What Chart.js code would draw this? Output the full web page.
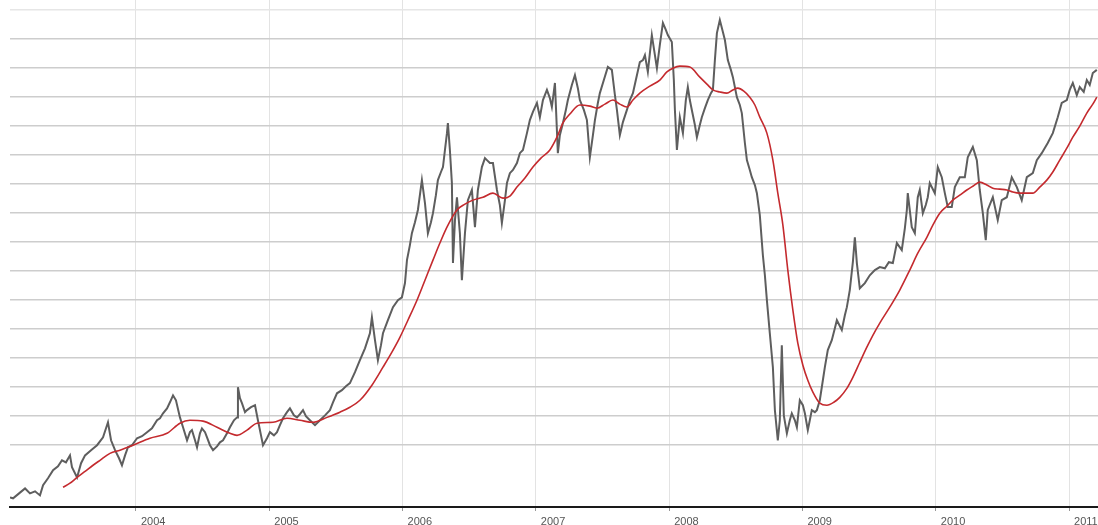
<!DOCTYPE html>
<html>
<head>
<meta charset="utf-8">
<script src="https://cdn.jsdelivr.net/npm/chart.js@4.4.1/dist/chart.umd.min.js"></script>
<style>
  body { margin: 0; background: #fff; }
  canvas { display: block; }
</style>
</head>
<body>
<canvas id="priceChart" width="1098" height="525"></canvas>
<script>
// price (grey) - decimal year / value
var priceYears = [
  2003.055, 2003.078, 2003.123, 2003.168, 2003.205, 2003.243, 2003.28, 2003.303, 2003.34, 2003.378,
  2003.415, 2003.445, 2003.475, 2003.505, 2003.52, 2003.558, 2003.588, 2003.618, 2003.663, 2003.708,
  2003.753, 2003.79, 2003.813, 2003.843, 2003.873, 2003.895, 2003.918, 2003.94, 2003.97, 2004.008,
  2004.045, 2004.083, 2004.12, 2004.158, 2004.18, 2004.203, 2004.233, 2004.255, 2004.278, 2004.3,
  2004.33, 2004.353, 2004.383, 2004.405, 2004.42, 2004.443, 2004.458, 2004.48, 2004.495, 2004.518,
  2004.533, 2004.555, 2004.578, 2004.608, 2004.63, 2004.653, 2004.683, 2004.705, 2004.735, 2004.758,
  2004.765, 2004.78, 2004.795, 2004.818, 2004.833, 2004.863, 2004.893, 2004.915, 2004.938, 2004.953,
  2004.983, 2005.005, 2005.035, 2005.058, 2005.08, 2005.103, 2005.133, 2005.155, 2005.185, 2005.208,
  2005.23, 2005.253, 2005.275, 2005.305, 2005.343, 2005.38, 2005.418, 2005.455, 2005.478, 2005.508,
  2005.545, 2005.575, 2005.605, 2005.643, 2005.68, 2005.718, 2005.755, 2005.77, 2005.793, 2005.815,
  2005.838, 2005.853, 2005.89, 2005.928, 2005.965, 2005.995, 2006.018, 2006.033, 2006.055, 2006.07,
  2006.093, 2006.115, 2006.145, 2006.168, 2006.19, 2006.213, 2006.228, 2006.25, 2006.265, 2006.288,
  2006.303, 2006.318, 2006.333, 2006.34, 2006.355, 2006.37, 2006.378, 2006.393, 2006.408, 2006.43,
  2006.445, 2006.468, 2006.49, 2006.52, 2006.543, 2006.565, 2006.595, 2006.618, 2006.633, 2006.655,
  2006.678, 2006.708, 2006.73, 2006.745, 2006.768, 2006.783, 2006.805, 2006.828, 2006.858, 2006.88,
  2006.903, 2006.933, 2006.955, 2006.978, 2007.008, 2007.03, 2007.053, 2007.083, 2007.105, 2007.12,
  2007.143, 2007.165, 2007.18, 2007.203, 2007.225, 2007.24, 2007.27, 2007.293, 2007.315, 2007.33,
  2007.36, 2007.383, 2007.405, 2007.428, 2007.443, 2007.465, 2007.48, 2007.51, 2007.54, 2007.57,
  2007.593, 2007.608, 2007.63, 2007.653, 2007.683, 2007.705, 2007.728, 2007.75, 2007.78, 2007.803,
  2007.818, 2007.84, 2007.87, 2007.893, 2007.908, 2007.93, 2007.953, 2007.975, 2007.99, 2008.02,
  2008.035, 2008.043, 2008.058, 2008.08, 2008.103, 2008.125, 2008.14, 2008.155, 2008.17, 2008.193,
  2008.208, 2008.23, 2008.245, 2008.268, 2008.29, 2008.313, 2008.328, 2008.343, 2008.358, 2008.38,
  2008.403, 2008.418, 2008.44, 2008.463, 2008.478, 2008.508, 2008.53, 2008.545, 2008.568, 2008.583,
  2008.605, 2008.62, 2008.643, 2008.658, 2008.68, 2008.703, 2008.718, 2008.733, 2008.755, 2008.778,
  2008.793, 2008.815, 2008.83, 2008.845, 2008.86, 2008.883, 2008.905, 2008.92, 2008.943, 2008.958,
  2008.98, 2009.003, 2009.018, 2009.04, 2009.055, 2009.07, 2009.093, 2009.108, 2009.13, 2009.153,
  2009.168, 2009.19, 2009.22, 2009.243, 2009.258, 2009.295, 2009.318, 2009.333, 2009.355, 2009.378,
  2009.393, 2009.408, 2009.43, 2009.468, 2009.505, 2009.543, 2009.58, 2009.618, 2009.648, 2009.678,
  2009.708, 2009.745, 2009.768, 2009.783, 2009.79, 2009.82, 2009.843, 2009.865, 2009.88, 2009.903,
  2009.925, 2009.94, 2009.955, 2009.993, 2010.015, 2010.045, 2010.068, 2010.09, 2010.12, 2010.143,
  2010.18, 2010.218, 2010.24, 2010.278, 2010.308, 2010.33, 2010.353, 2010.375, 2010.39, 2010.428,
  2010.465, 2010.495, 2010.533, 2010.57, 2010.608, 2010.645, 2010.683, 2010.728, 2010.758, 2010.795,
  2010.84, 2010.878, 2010.915, 2010.945, 2010.983, 2011.005, 2011.028, 2011.058, 2011.08, 2011.11,
  2011.133, 2011.155, 2011.178, 2011.208
];
var priceValues = [
  1.9, 1.6, 3.3, 5.0, 3.3, 4.0, 2.6, 6.1, 8.5, 11.3,
  12.6, 14.7, 14.0, 16.4, 12.3, 8.8, 13.7, 16.4, 18.2, 19.9,
  22.6, 27.8, 21.6, 18.2, 15.4, 13.0, 16.4, 19.2, 19.9, 22.3,
  23.0, 24.4, 25.7, 28.5, 29.2, 30.9, 32.6, 34.7, 37.1, 35.4,
  29.5, 26.1, 21.6, 24.4, 25.1, 21.6, 19.2, 24.0, 25.7, 24.4,
  22.6, 19.9, 18.2, 19.5, 20.9, 21.6, 24.0, 26.1, 28.5, 29.5,
  39.9, 36.1, 34.4, 31.3, 32.0, 33.0, 33.7, 28.5, 23.3, 19.9,
  22.3, 24.4, 23.3, 24.4, 26.8, 29.2, 31.3, 32.6, 30.2, 29.5,
  30.6, 32.0, 29.9, 28.5, 26.8, 28.5, 30.2, 32.0, 34.7, 37.8,
  38.9, 40.2, 41.3, 45.1, 49.2, 53.3, 58.5, 64.0, 56.1, 49.2,
  54.4, 58.5, 63.0, 67.5, 69.9, 70.9, 75.8, 83.7, 88.9, 93.0,
  96.8, 101.0, 111.3, 103.4, 93.0, 96.8, 99.9, 106.1, 111.3, 114.1,
  115.8, 121.7, 127.5, 131.0, 121.7, 110.3, 82.7, 97.5, 105.4, 93.0,
  76.8, 93.0, 104.4, 107.9, 95.1, 107.9, 115.8, 118.9, 118.2, 117.2,
  117.2, 107.9, 102.7, 96.5, 104.4, 110.3, 113.7, 114.8, 117.2, 120.6,
  121.7, 127.5, 132.0, 134.8, 137.9, 133.0, 138.9, 142.4, 139.6, 136.5,
  144.8, 120.6, 126.8, 131.0, 135.5, 138.9, 144.1, 147.5, 143.0, 138.9,
  135.5, 132.0, 119.2, 126.8, 132.0, 137.9, 141.3, 145.8, 150.3, 149.3,
  140.6, 135.5, 126.8, 131.3, 135.5, 138.9, 141.3, 145.8, 152.0, 152.7,
  154.4, 148.6, 161.3, 154.4, 149.9, 157.9, 165.5, 163.1, 161.3, 158.9,
  145.8, 135.5, 121.7, 133.0, 127.5, 138.9, 143.4, 138.9, 135.5, 130.3,
  126.1, 130.3, 133.0, 136.1, 138.9, 141.3, 142.4, 152.7, 162.0, 166.5,
  162.4, 159.6, 152.7, 149.3, 146.8, 139.9, 137.2, 134.4, 124.1, 118.2,
  114.8, 112.3, 109.6, 106.8, 99.2, 85.4, 78.5, 69.9, 58.5, 46.8,
  32.0, 21.6, 28.5, 54.4, 30.2, 24.0, 28.5, 30.9, 28.5, 26.1,
  35.4, 33.7, 30.9, 25.1, 28.5, 32.0, 31.3, 32.0, 35.4, 42.3,
  46.8, 52.7, 56.1, 60.2, 63.0, 59.6, 64.7, 67.5, 73.4, 83.0,
  91.6, 82.7, 74.0, 75.8, 78.5, 80.3, 81.3, 80.9, 83.0, 82.7,
  89.6, 87.2, 94.7, 101.0, 106.8, 95.1, 93.0, 105.4, 107.9, 99.9,
  102.7, 105.4, 110.3, 106.8, 115.8, 112.3, 106.8, 102.0, 102.0, 108.9,
  112.3, 112.3, 119.2, 122.7, 118.2, 107.9, 99.9, 90.6, 101.0, 105.4,
  97.5, 104.4, 105.4, 112.3, 108.9, 104.4, 112.3, 113.7, 118.2, 120.6,
  124.1, 127.5, 133.0, 137.9, 138.9, 142.4, 144.8, 140.6, 143.4, 141.7,
  145.8, 144.1, 148.2, 149.3
];

// moving average (red)
var avgYears = [
  2003.453, 2003.505, 2003.558, 2003.618, 2003.678, 2003.73, 2003.805, 2003.88, 2003.978, 2004.105,
  2004.233, 2004.33, 2004.405, 2004.503, 2004.608, 2004.705, 2004.758, 2004.833, 2004.908, 2005.028,
  2005.133, 2005.23, 2005.328, 2005.433, 2005.53, 2005.605, 2005.68, 2005.77, 2005.853, 2005.92,
  2005.98, 2006.04, 2006.108, 2006.168, 2006.228, 2006.28, 2006.333, 2006.408, 2006.468, 2006.528,
  2006.603, 2006.678, 2006.753, 2006.805, 2006.858, 2006.918, 2006.978, 2007.038, 2007.105, 2007.158,
  2007.203, 2007.255, 2007.33, 2007.405, 2007.458, 2007.518, 2007.578, 2007.63, 2007.683, 2007.728,
  2007.78, 2007.855, 2007.93, 2007.983, 2008.028, 2008.08, 2008.155, 2008.23, 2008.283, 2008.328,
  2008.38, 2008.433, 2008.478, 2008.515, 2008.56, 2008.605, 2008.643, 2008.68, 2008.733, 2008.778,
  2008.815, 2008.853, 2008.89, 2008.928, 2008.965, 2009.003, 2009.04, 2009.078, 2009.13, 2009.183,
  2009.235, 2009.28, 2009.333, 2009.378, 2009.43, 2009.483, 2009.528, 2009.58, 2009.655, 2009.73,
  2009.805, 2009.865, 2009.933, 2009.978, 2010.03, 2010.083, 2010.128, 2010.18, 2010.233, 2010.278,
  2010.33, 2010.383, 2010.428, 2010.48, 2010.533, 2010.578, 2010.63, 2010.683, 2010.728, 2010.78,
  2010.833, 2010.878, 2010.93, 2010.983, 2011.028, 2011.08, 2011.133, 2011.178, 2011.208
];
var avgValues = [
  5.4, 6.8, 8.8, 10.9, 13.0, 14.7, 17.1, 18.2, 19.9, 22.3,
  24.0, 27.5, 28.5, 28.2, 26.1, 24.0, 23.3, 25.1, 27.5, 27.8,
  29.2, 28.5, 27.8, 29.5, 31.3, 33.0, 35.4, 40.6, 46.8, 52.0,
  57.1, 63.0, 69.9, 76.8, 83.7, 89.6, 95.1, 101.0, 103.0, 104.4,
  105.4, 106.8, 105.1, 105.8, 108.9, 112.0, 115.8, 118.9, 121.7, 126.1,
  131.0, 134.1, 137.2, 136.8, 136.1, 137.5, 138.9, 137.5, 136.5, 138.9,
  141.3, 143.7, 145.8, 148.6, 149.9, 150.6, 150.3, 146.8, 144.4, 142.4,
  141.7, 141.3, 142.4, 143.0, 142.0, 139.9, 137.2, 133.0, 127.5, 118.2,
  106.8, 95.8, 80.3, 66.5, 55.1, 47.5, 42.3, 38.2, 34.4, 33.7,
  34.7, 36.4, 39.5, 43.3, 48.5, 53.7, 57.8, 62.0, 67.5, 73.4,
  80.3, 86.1, 91.6, 95.8, 99.9, 102.3, 104.4, 106.1, 107.9, 109.2,
  110.6, 109.6, 108.5, 108.2, 107.9, 107.2, 106.8, 106.8, 106.8, 108.9,
  111.3, 114.1, 118.2, 122.3, 126.1, 129.9, 134.4, 137.5, 139.9
];

var yearTicks = [2004, 2005, 2006, 2007, 2008, 2009, 2010, 2011];
var gridValues = [20, 30, 40, 50, 60, 70, 80, 90, 100, 110, 120, 130, 140, 150, 160, 170];

function toPoints(xs, ys) {
  return xs.map(function(x, i) { return { x: x, y: ys[i] }; });
}

var ctx = document.getElementById('priceChart').getContext('2d');

var priceChart = new Chart(ctx, {
  type: 'line',
  data: {
    datasets: [{
      label: 'Average',
      data: toPoints(avgYears, avgValues),
      borderColor: '#c42a2e',
      borderWidth: 1.6,
      pointRadius: 0,
      cubicInterpolationMode: 'monotone',
      fill: false,
      order: 0
    }, {
      label: 'Price',
      data: toPoints(priceYears, priceValues),
      borderColor: '#5e5e5e',
      borderWidth: 2,
      pointRadius: 0,
      tension: 0,
      fill: false,
      order: 1
    }]
  },
  options: {
    responsive: false,
    animation: false,
    devicePixelRatio: 1,
    layout: { padding: { left: 10, right: 0, top: 0, bottom: 0 } },
    plugins: {
      legend: { display: false },
      tooltip: { enabled: false }
    },
    scales: {
      x: {
        type: 'linear',
        min: 2003.055,
        max: 2011.217,
        afterBuildTicks: function(axis) {
          axis.ticks = yearTicks.map(function(v) { return { value: v }; });
        },
        afterFit: function(axis) { axis.height = 18; },
        grid: {
          color: '#e3e3e3',
          lineWidth: 1,
          drawTicks: true,
          tickLength: 4,
          tickColor: '#999'
        },
        border: { display: true, color: '#1a1a1a', width: 2 },
        ticks: {
          align: 'start',
          labelOffset: 5,
          maxRotation: 0,
          minRotation: 0,
          padding: 4,
          color: '#555',
          font: { family: 'Liberation Sans', size: 11 },
          callback: function(value) { return String(value); }
        }
      },
      y: {
        min: -1.4,
        max: 173.4,
        afterBuildTicks: function(axis) {
          axis.ticks = gridValues.map(function(v) { return { value: v }; });
        },
        grid: {
          color: function(c) { return c.tick && c.tick.value === 170 ? '#e6e6e6' : '#cdcdcd'; },
          lineWidth: 1.5,
          drawTicks: false
        },
        border: { display: false },
        ticks: { display: false }
      }
    }
  }
});
</script>
</body>
</html>
